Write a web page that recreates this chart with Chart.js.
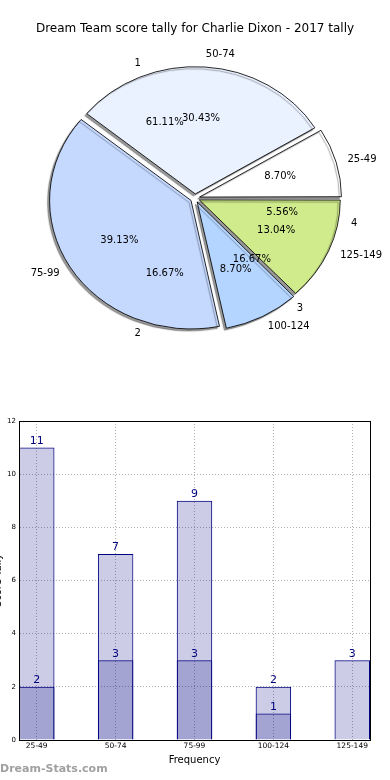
<!DOCTYPE html>
<html>
<head>
<meta charset="utf-8">
<script src="https://cdn.jsdelivr.net/npm/chart.js@4.4.1/dist/chart.umd.min.js"></script>
<style>
  body { margin: 0; background: #fff; width: 390px; height: 780px; position: relative; overflow: hidden; }
  canvas { position: absolute; left: 0; }
  #pieBack, #pieFront { top: 0; }
  #bars { top: 400px; }
  #brand { position: absolute; left: 0px; top: 762px; font: bold 11px "DejaVu Sans", sans-serif; color: #a0a0a0; }
</style>
</head>
<body>
<canvas id="pieBack" width="390" height="380"></canvas>
<canvas id="pieFront" width="390" height="380"></canvas>
<canvas id="bars" width="390" height="380"></canvas>
<div id="brand">Dream-Stats.com</div>
<script>
Chart.defaults.font.family = '"DejaVu Sans", sans-serif';
Chart.defaults.color = '#000';
Chart.defaults.animation = false;

// pie: score bands
const bandLabels = ['25-49', '50-74', '75-99', '100-124', '125-149'];
const bandValues = [2, 7, 9, 2, 3];
// pie underneath: tally groups (only its labels show)
const groupLabels = ['1', '2', '3', '4'];
const groupValues = [11, 3, 3, 1];
// bars
const freqLabels = ['25-49', '50-74', '75-99', '100-124', '125-149'];
const tallyTotals = [11, 7, 9, 2, 3];
const tallyGroup = [2, 3, 3, 1, null];
const yTicks = [0, 2, 4, 6, 8, 10, 12];

const bandColors = ['#ffffff', '#eaf1ff', '#c5d9ff', '#b4d5ff', '#cfeb8b'];
const xStretch = 1.1; // original pie is a bit wider than tall
const pieTitle = 'Dream Team score tally for Charlie Dixon - 2017 tally';

function rev(a) { return a.slice().reverse(); }

const stretchPlugin = {
  id: 'stretch',
  beforeDatasetsDraw(chart, args, opts) {
    const ctx = chart.ctx;
    const cx = (chart.chartArea.left + chart.chartArea.right) / 2;
    ctx.save();
    ctx.translate(cx, 0);
    ctx.scale(xStretch, 1);
    ctx.translate(-cx, 0);
    if (opts.shadow) {
      ctx.shadowColor = 'rgba(0,0,0,0.4)';
      ctx.shadowOffsetX = -2;
      ctx.shadowOffsetY = 2;
      ctx.shadowBlur = 1;
    }
  },
  afterDatasetsDraw(chart) {
    chart.ctx.restore();
  }
};

const sliceLabels = {
  id: 'sliceLabels',
  afterDraw(chart) {
    const ctx = chart.ctx;
    const ds = chart.data.datasets[0];
    const total = ds.data.reduce((s, v) => s + v, 0);
    const off = ds.offset / 4; // arc draws offset / 4
    ctx.save();
    ctx.font = '10px "DejaVu Sans", sans-serif';
    ctx.fillStyle = '#000';
    ctx.textBaseline = 'middle';
    chart.getDatasetMeta(0).data.forEach((arc, i) => {
      const a = (arc.startAngle + arc.endAngle) / 2;
      const r = arc.outerRadius;
      const px = d => arc.x + xStretch * (d + off) * Math.cos(a);
      const py = d => arc.y + (d + off) * Math.sin(a);
      ctx.textAlign = 'center';
      ctx.fillText((ds.data[i] / total * 100).toFixed(2) + '%', px(0.6 * r), py(0.6 * r));
      ctx.textAlign = Math.cos(a) > 0 ? 'left' : 'right';
      ctx.fillText(chart.data.labels[i], px(1.1 * r), py(1.1 * r));
    });
    ctx.restore();
  }
};

function pieConfig(labels, values, colors, front) {
  return {
    type: 'pie',
    data: {
      labels: labels,
      datasets: [{
        data: values,
        backgroundColor: colors,
        borderColor: front ? 'rgba(0,0,0,0)' : '#000',
        borderWidth: front ? 0 : 0.8,
        offset: 17
      }]
    },
    options: {
      responsive: false,
      events: [],
      rotation: 90,
      radius: 127,
      layout: { padding: { left: 0, right: 0, top: 0, bottom: 20 } },
      plugins: {
        legend: { display: false },
        tooltip: { enabled: false },
        title: {
          display: true,
          text: pieTitle,
          color: front ? 'rgba(0,0,0,0)' : '#000',
          font: { size: 12, weight: 'normal' },
          padding: { top: 22, bottom: 0 }
        },
        stretch: { shadow: !front }
      }
    },
    plugins: [stretchPlugin, sliceLabels]
  };
}

// matplotlib goes counter-clockwise from 3 o'clock, so feed reversed order clockwise
new Chart(document.getElementById('pieBack'),
  pieConfig(rev(bandLabels), rev(bandValues), rev(bandColors), false));
new Chart(document.getElementById('pieFront'),
  pieConfig(rev(groupLabels), rev(groupValues), 'rgba(0,0,0,0)', true));

const barLabels = {
  id: 'barLabels',
  afterDatasetsDraw(chart) {
    const ctx = chart.ctx;
    ctx.save();
    ctx.font = '11px "DejaVu Sans", sans-serif';
    ctx.fillStyle = '#000080';
    ctx.textAlign = 'center';
    ctx.textBaseline = 'bottom';
    chart.data.datasets.forEach((ds, d) => {
      chart.getDatasetMeta(d).data.forEach((bar, i) => {
        const v = ds.data[i].y;
        if (v === null) return;
        ctx.fillText(v, bar.x, bar.y - 1);
      });
    });
    ctx.restore();
  }
};

const frame = {
  id: 'frame',
  afterDraw(chart) {
    const a = chart.chartArea;
    const ctx = chart.ctx;
    ctx.save();
    ctx.strokeStyle = '#000';
    ctx.lineWidth = 1;
    ctx.strokeRect(Math.round(a.left) + 0.5, Math.round(a.top) + 0.5,
      Math.round(a.right - a.left), Math.round(a.bottom - a.top));
    ctx.restore();
  }
};

new Chart(document.getElementById('bars'), {
  type: 'bar',
  data: {
    datasets: [{
      data: tallyGroup.map((v, i) => ({ x: i, y: v })),
      backgroundColor: 'rgba(0,0,128,0.2)',
      borderColor: '#000080',
      borderWidth: 1
    }, {
      data: tallyTotals.map((v, i) => ({ x: i, y: v })),
      backgroundColor: 'rgba(0,0,128,0.2)',
      borderColor: '#000080',
      borderWidth: 1
    }]
  },
  options: {
    responsive: false,
    events: [],
    grouped: false,
    categoryPercentage: 1,
    barPercentage: 0.45,
    layout: { padding: { left: -8, right: 20, top: 21, bottom: 0 } },
    scales: {
      x: {
        type: 'linear',
        min: -0.225,
        max: 4.225,
        offset: false,
        afterBuildTicks: s => { s.ticks = freqLabels.map((t, i) => ({ value: i })); },
        afterFit: s => { s.height = 40; },
        ticks: { callback: v => freqLabels[v], font: { size: 7.5 }, padding: 2, maxRotation: 0, autoSkip: false },
        grid: { color: '#b0b0b0', drawTicks: false, offset: false },
        border: { color: '#000', dash: [1, 2] },
        title: { display: true, text: 'Frequency', font: { size: 10 }, padding: { top: 0, bottom: 14 } }
      },
      y: {
        min: 0,
        max: 12,
        afterBuildTicks: s => { s.ticks = yTicks.map(v => ({ value: v })); },
        afterFit: s => { s.width = 27; },
        ticks: { font: { size: 7 }, padding: 3 },
        grid: { color: '#b0b0b0', drawTicks: false },
        border: { color: '#000', dash: [1, 2] },
        title: { display: true, text: 'Score Tally', font: { size: 10 }, padding: 0 }
      }
    },
    plugins: {
      legend: { display: false },
      tooltip: { enabled: false }
    }
  },
  plugins: [barLabels, frame]
});
</script>
</body>
</html>
